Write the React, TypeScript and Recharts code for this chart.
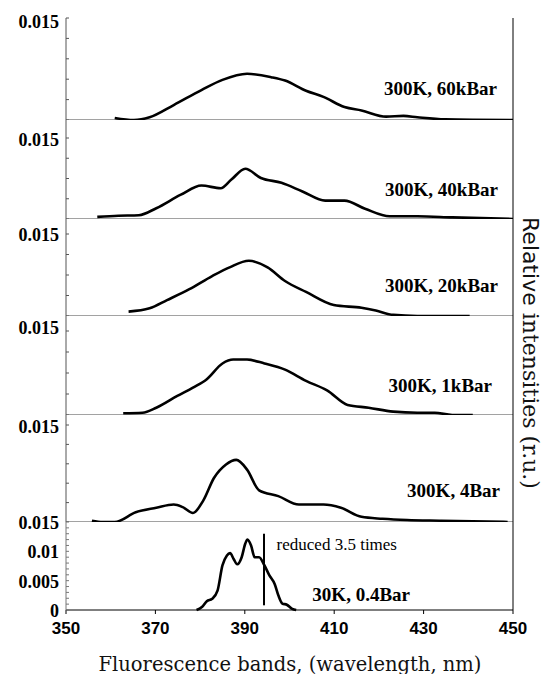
import React from 'react';
import { LineChart, Line, XAxis, YAxis, ReferenceLine } from 'recharts';

const serif = '"Liberation Serif", "Times New Roman", serif';
const sans = '"Liberation Sans", Arial, sans-serif';
const titleFont = '"DejaVu Serif", serif';

// wavelength (nm) and relative intensity, one pair per spectrum, top to bottom
const nm60 = [360.9, 365.2, 368.7, 374.1, 380.3, 385.0, 390.5, 395.9, 399.0, 403.7, 407.6, 412.3, 416.1, 421.6, 425.5, 428.6, 434.8, 450];
const int60 = [0.0003, 0.0, 0.0004, 0.0022, 0.0044, 0.0059, 0.0068, 0.0063, 0.0058, 0.0043, 0.0034, 0.0019, 0.0014, 0.0005, 0.0006, 0.0004, 0.0001, 0];

const nm40 = [357.0, 361.7, 366.3, 370.2, 375.7, 380.3, 384.6, 387.0, 390.1, 393.6, 398.2, 402.9, 408.0, 412.3, 416.9, 422.4, 428.6, 436.4, 450];
const int40 = [0.0004, 0.0006, 0.0007, 0.002, 0.0045, 0.0062, 0.0057, 0.0073, 0.0093, 0.0076, 0.0067, 0.0051, 0.0034, 0.0034, 0.0019, 0.0005, 0.0005, 0.0003, 0];

const nm20 = [364.0, 368.7, 372.6, 377.6, 382.7, 386.6, 390.9, 395.1, 399.0, 403.7, 409.9, 416.1, 419.3, 423.2, 428.6, 440.3];
const int20 = [0.0008, 0.0014, 0.0029, 0.0049, 0.0073, 0.0089, 0.0101, 0.0089, 0.0064, 0.0044, 0.002, 0.0015, 0.001, 0.0002, 0, 0];

const nm1 = [362.8, 367.1, 370.2, 374.9, 378.4, 381.5, 385.0, 387.4, 390.5, 394.4, 399.0, 403.7, 408.4, 413.0, 417.7, 423.2, 428.6, 432.5, 436.4, 441.0];
const int1 = [0.0003, 0.0004, 0.0013, 0.0034, 0.0049, 0.0064, 0.0092, 0.0099, 0.0099, 0.0092, 0.0081, 0.0061, 0.0044, 0.0018, 0.0013, 0.0006, 0.0004, 0.0004, 0, 0];

const nm4 = [355.8, 358.2, 360.9, 365.6, 370.2, 374.1, 376.1, 378.4, 380.7, 383.1, 385.8, 388.1, 390.5, 393.2, 397.5, 402.1, 407.6, 411.5, 416.1, 420.8, 426.3, 434.0, 448.8];
const int4 = [0.0002, 0, 0, 0.0015, 0.0022, 0.0027, 0.0023, 0.0014, 0.0033, 0.0068, 0.0089, 0.0096, 0.0081, 0.0049, 0.004, 0.0027, 0.0027, 0.0022, 0.0008, 0.0005, 0.0003, 0.0002, 0];

const nm04 = [379.2, 380.4, 381.5, 382.7, 383.9, 385.0, 386.0, 386.7, 387.5, 388.3, 389.3, 390.1, 390.6, 391.4, 392.2, 393.2, 394.4, 395.5, 396.7, 397.5, 398.4, 399.4, 400.6, 401.5];
const int04 = [0, 0.0005, 0.0015, 0.0019, 0.0033, 0.0076, 0.0093, 0.0097, 0.0087, 0.0078, 0.009, 0.0113, 0.012, 0.011, 0.009, 0.009, 0.0076, 0.0059, 0.0044, 0.0025, 0.0011, 0.0009, 0.0002, 0];

const labels = ['300K, 60kBar', '300K, 40kBar', '300K, 20kBar', '300K, 1kBar', '300K, 4Bar', '30K, 0.4Bar'];
const xTicks = [350, 370, 390, 410, 430, 450];
const bottomYLabels = [0, 0.005, 0.01, 0.015];
const reducedNm = 394.3;
const reducedFrom = 0.0008;
const reducedTo = 0.013;
const reducedNote = 'reduced 3.5 times';

const series = [
  [nm60, int60],
  [nm40, int40],
  [nm20, int20],
  [nm1, int1],
  [nm4, int4],
];

// page geometry of the stacked panels (px)
const layout = [
  { top: 18, base: 120, top15: 18, step: 0.003, labelDy: 4, endX: 497, labelY: 88 },
  { top: 120, base: 219, top15: 138, step: 0.00375, labelDy: 2, endX: 498, labelY: 189 },
  { top: 219, base: 316, top15: 234, step: 0.00375, labelDy: 1, endX: 498, labelY: 285 },
  { top: 316, base: 415, top15: 331, step: 0.00375, labelDy: -3, endX: 492, labelY: 385 },
  { top: 415, base: 522, top15: 425, step: 0.003, labelDy: 2, endX: 500, labelY: 490 },
];
const PAD = 14; // room above each plot for the top tick label

const toRows = (xs: number[], ys: number[]) => xs.map((nm, i) => ({ nm, v: ys[i] }));

const makeTicks = (step: number, max: number) => {
  const out: number[] = [];
  for (let i = 0; i * step <= max + 1e-9; i++) out.push(+(i * step).toFixed(5));
  return out;
};

function YTick(props: any) {
  const { y, payload, shown, dy } = props;
  const val = payload.value;
  const hit = shown.find((s: number) => Math.abs(s - val) < 1e-7);
  if (hit === undefined) return null;
  return (
    <text x={59} y={y + dy} textAnchor="end" dominantBaseline="central"
      fontFamily={serif} fontWeight="bold" fontSize={18} fill="#000">
      {String(hit)}
    </text>
  );
}

function PanelLabel({ text, endX, cy, size = 19, weight = 'bold' }: any) {
  return (
    <div style={{
      position: 'absolute', right: 546 - endX, top: cy - size / 2, lineHeight: `${size}px`,
      fontFamily: serif, fontWeight: weight, fontSize: size, color: '#000', whiteSpace: 'nowrap',
    }}>
      {text}
    </div>
  );
}

export default function App() {
  const p6Ticks = makeTicks(0.001, 0.015);
  return (
    <div style={{ position: 'absolute', left: 0, top: 0, width: 546, height: 674, background: '#fff' }}>
      {layout.map((p, k) => {
        const h = p.base - p.top;
        const max = (0.015 * h) / (p.base - p.top15);
        return (
          <div key={k} style={{ position: 'absolute', left: 0, top: p.top - PAD }}>
            <LineChart width={546} height={h + PAD} data={toRows(series[k][0], series[k][1])}
              margin={{ top: PAD, right: 33, bottom: 0, left: 0 }}>
              <XAxis type="number" dataKey="nm" domain={[350, 450]} hide />
              <YAxis type="number" width={66} domain={[0, max]} ticks={makeTicks(p.step, 0.015)}
                interval={0} tickSize={-3} axisLine={{ stroke: '#555' }} tickLine={{ stroke: '#555' }}
                tick={<YTick shown={[0.015]} dy={p.labelDy} />} />
              <ReferenceLine y={0} stroke="#444" />
              <ReferenceLine x={450} stroke="#000" />
              <Line type="monotone" dataKey="v" stroke="#000" strokeWidth={2.6} dot={false}
                isAnimationActive={false} />
            </LineChart>
          </div>
        );
      })}

      <div style={{ position: 'absolute', left: 0, top: 522 - PAD }}>
        <LineChart width={546} height={128 + PAD} data={toRows(nm04, int04)}
          margin={{ top: PAD, right: 33, bottom: 0, left: 0 }}>
          <XAxis type="number" dataKey="nm" domain={[350, 450]} ticks={xTicks} interval={0}
            height={40} tickSize={4} tickMargin={8} axisLine={{ stroke: '#000' }} tickLine={{ stroke: '#000' }}
            tick={{ fontFamily: sans, fontWeight: 'bold', fontSize: 17, fill: '#000' }} />
          <YAxis type="number" width={66} domain={[0, 0.015]} ticks={p6Ticks} interval={0}
            tickSize={-3} axisLine={{ stroke: '#777' }} tickLine={{ stroke: '#777' }}
            tick={<YTick shown={bottomYLabels} dy={1} />} />
          <ReferenceLine x={450} stroke="#000" />
          <ReferenceLine segment={[{ x: reducedNm, y: reducedFrom }, { x: reducedNm, y: reducedTo }]}
            stroke="#000" strokeWidth={2} />
          <Line type="monotone" dataKey="v" stroke="#000" strokeWidth={2.6} dot={false}
            isAnimationActive={false} />
        </LineChart>
      </div>

      {layout.map((p, k) => (
        <PanelLabel key={k} text={labels[k]} endX={p.endX} cy={p.labelY} />
      ))}
      <PanelLabel text={labels[5]} endX={410} cy={594} />
      <PanelLabel text={reducedNote} endX={397} cy={544} size={17} weight="normal" />

      <div style={{
        position: 'absolute', left: 290, top: 664, transform: 'translate(-50%, -50%)',
        fontFamily: titleFont, fontSize: 19.5, color: '#111', whiteSpace: 'nowrap',
      }}>
        Fluorescence bands, (wavelength, nm)
      </div>

      <div style={{
        position: 'absolute', left: 530, top: 353, transform: 'translate(-50%, -50%) rotate(90deg)',
        fontSize: 22, color: '#111', whiteSpace: 'nowrap',
      }}>
        <span style={{ fontFamily: '"DejaVu Sans", sans-serif' }}>Relative</span>
        <span style={{ fontFamily: titleFont }}> intensities (r.u.)</span>
      </div>
    </div>
  );
}
